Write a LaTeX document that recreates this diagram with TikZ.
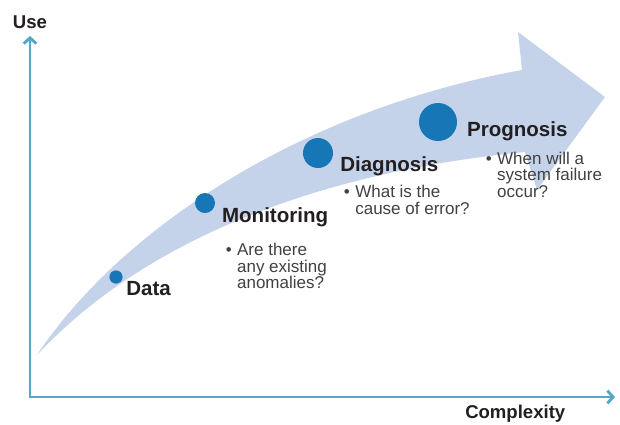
\documentclass[tikz,border=0pt]{standalone}
\usepackage{fontspec}
\setmainfont{Liberation Sans}
\usepackage{tikz}
\usetikzlibrary{calc,positioning,arrows.meta}
\definecolor{bandblue}{RGB}{196,211,234}
\definecolor{dotblue}{RGB}{22,118,182}
\definecolor{axisteal}{RGB}{86,168,197}
\definecolor{titlegray}{RGB}{35,31,32}
\definecolor{descgray}{RGB}{65,64,66}
\tikzset{
    axis/.style={draw=axisteal,line width=2.1pt,>={Straight Barb[length=4pt,width=9pt]}},
    axislabel/.style={font=\fontsize{13.2}{15}\selectfont\bfseries,text=titlegray,inner sep=1pt},
    band/.style={fill=bandblue,draw=none},
    stage/.style={circle,fill=dotblue,draw=none,inner sep=0pt},
    stagetitle/.style={font=\fontsize{14.6}{16}\selectfont\bfseries,text=titlegray,inner sep=0pt},
    stagedesc/.style={font=\fontsize{12.1}{11.7}\selectfont,text=descgray,inner sep=0pt},
    stagebullet/.style={font=\fontsize{12.1}{11.7}\selectfont,text=descgray,inner sep=0pt},
}

\begin{document}
\begin{tikzpicture}[x=0.025cm,y=-0.025cm]
\useasboundingbox (0,0) rectangle (620,424);

\coordinate (origin) at (30,397);
\coordinate (yend)   at (30,36);
\coordinate (xend)   at (615,397);
\coordinate (tail)   at (37,355);

\fill[band] (tail) .. controls (120,230) and (300,110) .. (522,70) -- (518,32) -- (605,97)
    -- (537,190) -- (525,152) .. controls (290,175) and (130,255) .. (tail);

\draw[axis,<->] (yend) -- (origin) -- (xend);
\node[axislabel,above=0.15cm of yend]                   (uselbl)  {Use};
\node[axislabel,below left=0.15cm and 1.2cm of xend]     (complbl) {Complexity};

\node[stage,minimum size=0.33cm] (data) at (116,277) {};
\node[stagetitle,below right=0.45cm and 0.25cm of data.center,anchor=base west] (datalbl) {Data};

\node[stage,minimum size=0.5cm]  (mon)  at (205,203) {};
\node[stagetitle,below right=0.49cm and 0.42cm of mon.center,anchor=base west]  (monlbl)  {Monitoring};
\node[stagedesc,below right=0.83cm and 0.375cm of monlbl.base west,anchor=base west] (mondesc)
    {\parbox[t]{3cm}{Are there\\any existing\\anomalies?}};
\node[stagebullet,left=0.12cm of mondesc.base west,anchor=base east] (monbul) {\textbullet};

\node[stage,minimum size=0.75cm] (diag) at (318,153) {};
\node[stagetitle,below right=0.47cm and 0.55cm of diag.center,anchor=base west] (diaglbl) {Diagnosis};
\node[stagedesc,below right=0.65cm and 0.375cm of diaglbl.base west,anchor=base west] (diagdesc)
    {\parbox[t]{3.5cm}{What is the\\cause of error?}};
\node[stagebullet,left=0.12cm of diagdesc.base west,anchor=base east] (diagbul) {\textbullet};

\node[stage,minimum size=0.95cm] (prog) at (438,122) {};
\node[stagetitle,below right=0.37cm and 0.72cm of prog.center,anchor=base west] (proglbl) {Prognosis};
\node[stagedesc,below right=0.69cm and 0.75cm of proglbl.base west,anchor=base west] (progdesc)
    {\parbox[t]{3cm}{When will a\\system failure\\occur?}};
\node[stagebullet,left=0.12cm of progdesc.base west,anchor=base east] (progbul) {\textbullet};
\end{tikzpicture}
\end{document}
